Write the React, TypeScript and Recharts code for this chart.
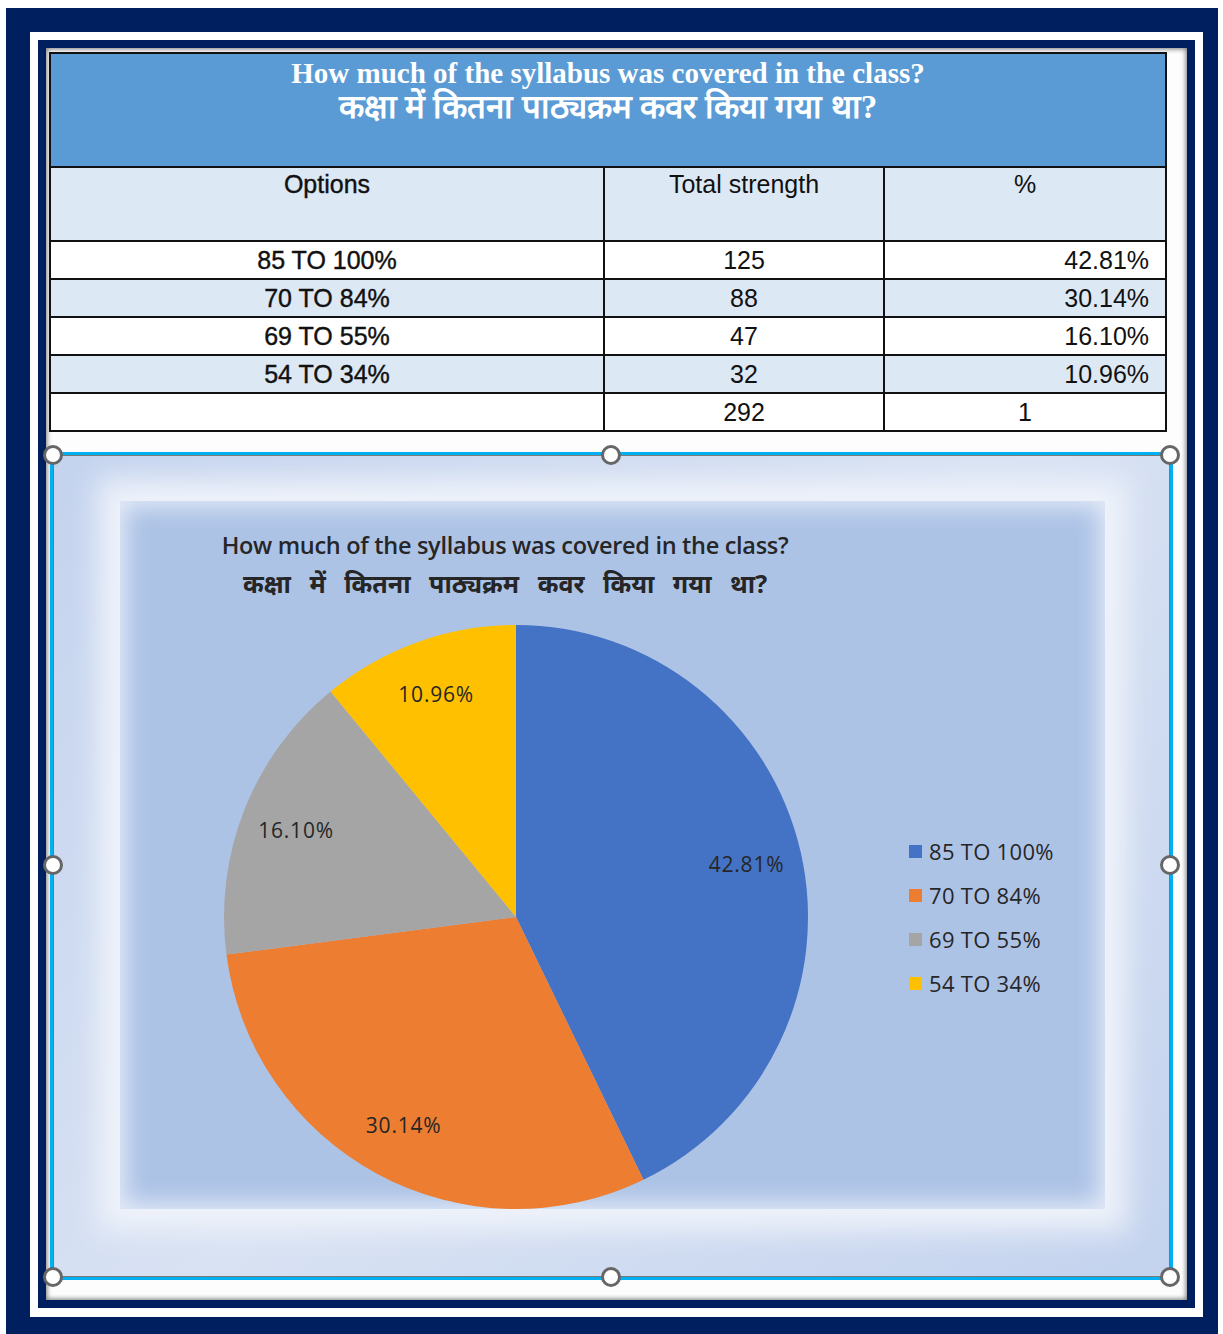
import React from 'react';
import { PieChart, Pie, Cell, Legend } from 'recharts';

// table + chart values
const options = ['85 TO 100%', '70 TO 84%', '69 TO 55%', '54 TO 34%'];
const strengths = [125, 88, 47, 32];
const percents = ['42.81%', '30.14%', '16.10%', '10.96%'];
const totalStrength = 292;
const totalPercent = '1';
const sliceColors = ['#4472c4', '#ed7d31', '#a5a5a5', '#ffc000'];

const titleEn = 'How much of the syllabus was covered in the class?';
const titleHi = 'कक्षा में कितना पाठ्यक्रम कवर किया गया था?';

const RADIAN = Math.PI / 180;

const pieData = options.map((name, i) => ({
  name,
  value: strengths[i],
  pct: percents[i],
}));

// data label placed inside the slice, ~80% of radius
const renderLabel = (props: any) => {
  const { cx, cy, midAngle, outerRadius, index } = props;
  const r = outerRadius * 0.81;
  const x = cx + r * Math.cos(-midAngle * RADIAN);
  const y = cy + r * Math.sin(-midAngle * RADIAN);
  return (
    <text
      x={x}
      y={y}
      textAnchor="middle"
      dominantBaseline="central"
      fill="#262626"
      fontSize={21}
      letterSpacing={0.8}
      fontFamily="'Open Sans', sans-serif"
    >
      {percents[index]}
    </text>
  );
};

const LegendContent = () => (
  <div style={{ fontFamily: "'Open Sans', sans-serif", fontSize: 22, color: '#262626' }}>
    {pieData.map((d, i) => (
      <div key={d.name} style={{ height: 44, display: 'flex', alignItems: 'center' }}>
        <span
          style={{
            display: 'inline-block',
            width: 13,
            height: 13,
            background: sliceColors[i],
            marginRight: 7,
          }}
        />
        <span style={{ letterSpacing: 0.3, whiteSpace: 'nowrap' }}>{d.name}</span>
      </div>
    ))}
  </div>
);

const cellBase: React.CSSProperties = {
  border: '2px solid #111',
  padding: 0,
  fontFamily: "'Liberation Sans', Arial, sans-serif",
  fontSize: 25,
  color: '#111',
  height: 36,
};

const Handle = ({ x, y }: { x: number; y: number }) => (
  <div
    style={{
      position: 'absolute',
      left: x - 10,
      top: y - 10,
      width: 14,
      height: 14,
      borderRadius: '50%',
      background: '#fff',
      border: '3px solid #666',
    }}
  />
);

export default function App() {
  const rowBg = ['#ffffff', '#dde8f5', '#ffffff', '#dde8f5'];
  return (
    <div style={{ position: 'absolute', left: 0, top: 0, width: 1223, height: 1334, background: '#fff', overflow: 'hidden' }}>
      {/* frame rings */}
      <div style={{ position: 'absolute', left: 6, top: 8, width: 1212, height: 1330, background: '#001f5f' }} />
      <div style={{ position: 'absolute', left: 30, top: 32, width: 1173, height: 1285, background: '#fff' }} />
      <div style={{ position: 'absolute', left: 38, top: 40, width: 1157, height: 1268, background: '#001f5f' }} />
      <div
        style={{
          position: 'absolute',
          left: 46,
          top: 48,
          width: 1141,
          height: 1252,
          background: '#fdfdfd',
          boxShadow: 'inset 0 0 5px 1px #777',
        }}
      />

      {/* table */}
      <table
        style={{
          position: 'absolute',
          left: 49,
          top: 52,
          width: 1116,
          borderCollapse: 'collapse',
          tableLayout: 'fixed',
        }}
      >
        <colgroup>
          <col style={{ width: 554 }} />
          <col style={{ width: 280 }} />
          <col style={{ width: 282 }} />
        </colgroup>
        <tbody>
          <tr>
            <td
              colSpan={3}
              style={{
                ...cellBase,
                height: 110,
                background: '#5b9bd5',
                color: '#fff',
                textAlign: 'center',
                verticalAlign: 'top',
                fontFamily: "'Liberation Serif', 'Times New Roman', serif",
                fontWeight: 'bold',
                fontSize: 29,
                lineHeight: '34px',
                paddingTop: 2,
              }}
            >
              <div style={{ letterSpacing: 0 }}>{titleEn}</div>
              <div style={{ fontSize: 33, fontWeight: 'bold' }}>{titleHi}</div>
            </td>
          </tr>
          <tr>
            <td style={{ ...cellBase, height: 72, background: '#dde8f5', textAlign: 'center', verticalAlign: 'top', WebkitTextStroke: '0.4px #111' }}>
              <div style={{ marginTop: 2 }}>Options</div>
            </td>
            <td style={{ ...cellBase, height: 72, background: '#dde8f5', textAlign: 'center', verticalAlign: 'top' }}>
              <div style={{ marginTop: 2 }}>Total strength</div>
            </td>
            <td style={{ ...cellBase, height: 72, background: '#dde8f5', textAlign: 'center', verticalAlign: 'top' }}>
              <div style={{ marginTop: 2 }}>%</div>
            </td>
          </tr>
          {options.map((o, i) => (
            <tr key={o}>
              <td style={{ ...cellBase, background: rowBg[i], textAlign: 'center', WebkitTextStroke: '0.4px #111' }}>{o}</td>
              <td style={{ ...cellBase, background: rowBg[i], textAlign: 'center' }}>{strengths[i]}</td>
              <td style={{ ...cellBase, background: rowBg[i], textAlign: 'right', paddingRight: 16 }}>{percents[i]}</td>
            </tr>
          ))}
          <tr>
            <td style={{ ...cellBase, background: '#fff' }} />
            <td style={{ ...cellBase, background: '#fff', textAlign: 'center' }}>{totalStrength}</td>
            <td style={{ ...cellBase, background: '#fff', textAlign: 'center' }}>{totalPercent}</td>
          </tr>
        </tbody>
      </table>

      {/* chart object */}
      <div
        style={{
          position: 'absolute',
          left: 50,
          top: 452,
          width: 1117,
          height: 822,
          border: '3px solid #00b0f0',
          overflow: 'hidden',
          background: 'linear-gradient(135deg, #c4d3ee 0%, #d8e2f3 50%, #c4d3ee 100%)',
        }}
      >
        <div style={{ position: 'absolute', inset: 0, border: '1px solid #777', boxSizing: 'border-box' }} />
        {/* bevel glow */}
        <div
          style={{
            position: 'absolute',
            left: 67,
            top: 46,
            width: 985,
            height: 708,
            background: '#adc3e6',
            boxShadow: '0 0 26px 22px #eef2fa, inset 0 0 22px 6px rgba(236,241,250,0.85)',
          }}
        />
        {/* title */}
        <div
          style={{
            position: 'absolute',
            left: 0,
            top: 74,
            width: 904,
            textAlign: 'center',
            fontFamily: "'Open Sans', sans-serif",
            fontWeight: 600,
            fontSize: 23.5,
            color: '#262626',
            letterSpacing: -0.3,
          }}
        >
          {titleEn}
        </div>
        <div
          style={{
            position: 'absolute',
            left: 0,
            top: 111,
            width: 904,
            textAlign: 'center',
            fontFamily: "'Noto Sans', sans-serif",
            fontWeight: 700,
            fontSize: 25,
            color: '#262626',
            wordSpacing: 12,
          }}
        >
          {titleHi}
        </div>
        <div style={{ position: 'absolute', left: 0, top: 0 }}>
          <PieChart width={1117} height={822} margin={{ top: 0, right: 0, bottom: 0, left: 0 }}>
            <Pie
              data={pieData}
              dataKey="value"
              nameKey="name"
              cx={463}
              cy={462}
              outerRadius={292}
              startAngle={90}
              endAngle={-270}
              stroke="none"
              label={renderLabel}
              labelLine={false}
              isAnimationActive={false}
            >
              {pieData.map((d, i) => (
                <Cell key={d.name} fill={sliceColors[i]} />
              ))}
            </Pie>
            <Legend
              layout="vertical"
              verticalAlign="middle"
              align="right"
              content={<LegendContent />}
              wrapperStyle={{ position: 'absolute', left: 856, top: 374, width: 220 }}
            />
          </PieChart>
        </div>
      </div>

      {[
        [53, 455],
        [611, 455],
        [1170, 455],
        [53, 865],
        [1170, 865],
        [53, 1277],
        [611, 1277],
        [1170, 1277],
      ].map(([x, y]) => (
        <Handle key={`${x}-${y}`} x={x} y={y} />
      ))}
    </div>
  );
}
